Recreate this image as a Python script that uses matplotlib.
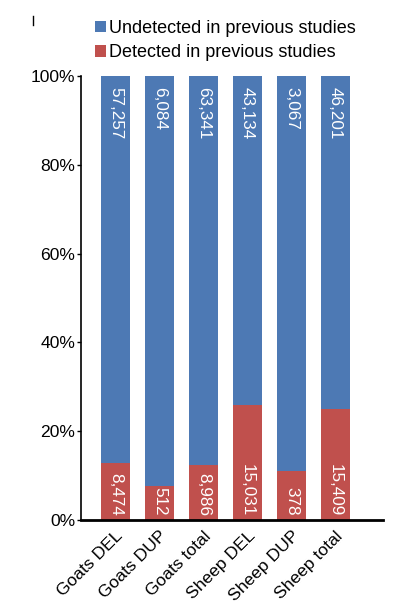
import matplotlib
matplotlib.use("Agg")
import matplotlib.pyplot as plt
from matplotlib.lines import Line2D
from matplotlib.patches import Patch
import numpy as np

plt.rcParams['font.family'] = ['Liberation Sans', 'DejaVu Sans']

categories = ["Goats DEL", "Goats DUP", "Goats total", "Sheep DEL", "Sheep DUP", "Sheep total"]
detected = [8474, 512, 8986, 15031, 378, 15409]
undetected = [57257, 6084, 63341, 43134, 3067, 46201]
yticks = [0, 20, 40, 60, 80, 100]
ytick_labels = ["0%", "20%", "40%", "60%", "80%", "100%"]
legend_labels = ["Undetected in previous studies", "Detected in previous studies"]

BLUE = "#4D79B4"
RED = "#C0504D"

det = np.array(detected, dtype=float)
und = np.array(undetected, dtype=float)
tot = det + und
det_pct = det / tot * 100
und_pct = und / tot * 100

fig = plt.figure(figsize=(4.16, 6.08), dpi=100)
ax = fig.add_axes([81/416, 1 - 520/608, 302/416, 444/608])

x = np.arange(len(categories))
w = 0.67
ax.bar(x, det_pct, width=w, color=RED, zorder=2)
ax.bar(x, und_pct, width=w, bottom=det_pct, color=BLUE, zorder=2)

for xi, d, u in zip(x, detected, undetected):
    ax.annotate(f"{u:,}", xy=(xi, 100), xytext=(0, -8), textcoords="offset points",
                rotation=-90, ha="center", va="top", color="white", fontsize=12.3)
    ax.annotate(f"{d:,}", xy=(xi, 0), xytext=(0, 3), textcoords="offset points",
                rotation=-90, ha="center", va="bottom", color="white", fontsize=12.3)

ax.set_xlim(-0.78, 6.08)
ax.set_ylim(0, 100)
ax.set_yticks(yticks)
ax.set_yticklabels(ytick_labels, fontsize=12.6)
ax.set_xticks(x)
ax.set_xticklabels(categories, fontsize=12.6, rotation=45, ha="right", rotation_mode="anchor")
ax.tick_params(axis="x", length=0, pad=6)
ax.tick_params(axis="y", length=3, width=1, pad=1)
ax.spines["top"].set_visible(False)
ax.spines["right"].set_visible(False)
ax.spines["left"].set_linewidth(1.2)
ax.spines["bottom"].set_linewidth(2)

handles = [Patch(facecolor=BLUE), Patch(facecolor=RED)]
fig.legend(handles, legend_labels, loc="upper left", bbox_to_anchor=(95/416, 1 - 20/608),
           frameon=False, fontsize=13, handlelength=0.6, handleheight=0.6,
           handletextpad=0.2, labelspacing=0.4, borderaxespad=0, borderpad=0)

fig.add_artist(Line2D([33/416, 33/416], [1 - 16/608, 1 - 25/608], color="black", lw=1))

fig.savefig("out.png", dpi=100)
